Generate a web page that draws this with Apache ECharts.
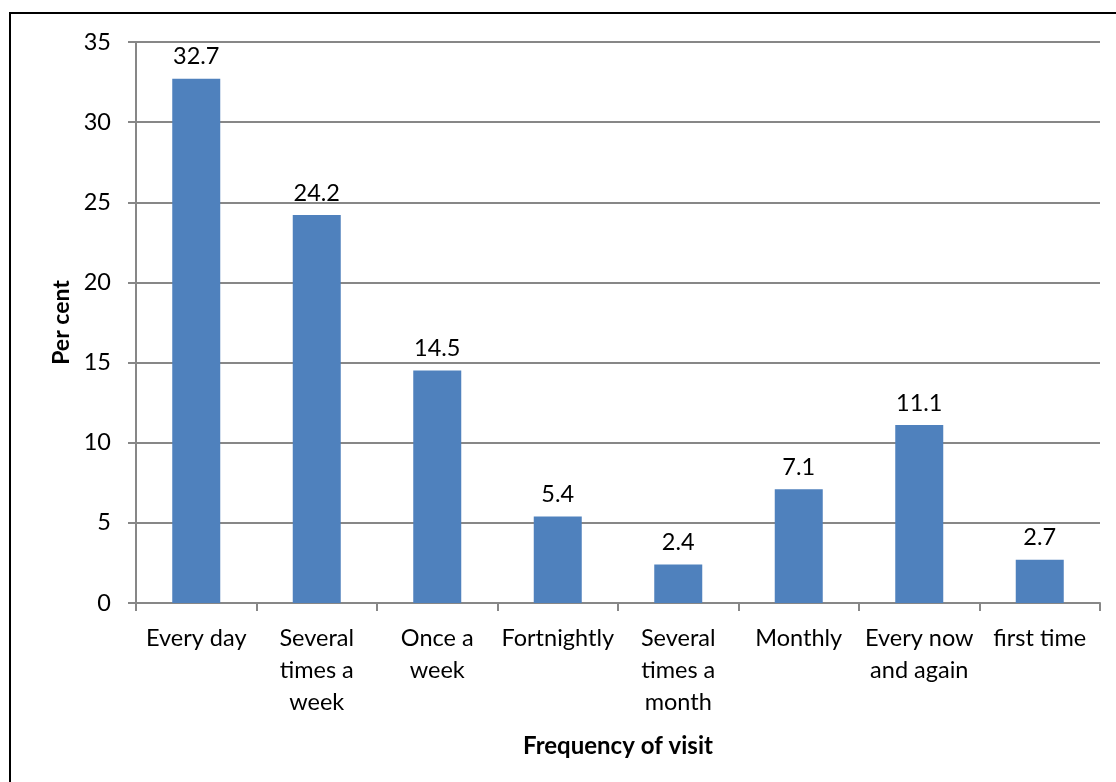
<!DOCTYPE html>
<html>
<head>
<meta charset="utf-8">
<script src="https://cdn.jsdelivr.net/npm/echarts@6/dist/echarts.min.js"></script>
<style>
html,body{margin:0;padding:0;background:#fff;overflow:hidden;}
#frame{position:absolute;left:9px;top:12px;width:1200px;height:900px;border:2px solid #000;box-sizing:border-box;}
#chart{position:absolute;left:0;top:0;width:1116px;height:782px;}
</style>
</head>
<body>
<div id="frame"></div>
<div id="chart"></div>
<script>
const categories = ['Every day', 'Several\ntimes a\nweek', 'Once a\nweek', 'Fortnightly', 'Several\ntimes a\nmonth', 'Monthly', 'Every now\nand again', 'first time'];
const values = [32.7, 24.2, 14.5, 5.4, 2.4, 7.1, 11.1, 2.7];
const yTicks = { min: 0, max: 35, interval: 5 };
const xTitle = 'Frequency of visit';
const yTitle = 'Per cent';

const FONT = 'Lato';
const chart = echarts.init(document.getElementById('chart'), null, { renderer: 'canvas' });
chart.setOption({
  backgroundColor: 'transparent',
  animation: false,
  textStyle: { fontFamily: FONT },
  grid: { left: 136, right: 16, top: 42, bottom: 179, containLabel: false },
  xAxis: {
    type: 'category',
    data: categories,
    name: xTitle,
    nameLocation: 'middle',
    nameGap: 131,
    nameTextStyle: { fontFamily: FONT, fontSize: 24, fontWeight: 'bold', color: '#000' },
    axisLine: { lineStyle: { color: '#878787', width: 2 } },
    axisTick: { show: true, length: 8, lineStyle: { color: '#878787', width: 2 } },
    axisLabel: { fontFamily: FONT, fontSize: 23.5, color: '#000', margin: 19, lineHeight: 32, interval: 0, verticalAlign: 'top' },
    splitLine: { show: false }
  },
  yAxis: {
    type: 'value',
    min: yTicks.min, max: yTicks.max, interval: yTicks.interval,
    name: yTitle,
    nameLocation: 'middle',
    nameGap: 63,
    nameRotate: 90,
    nameTextStyle: { fontFamily: FONT, fontSize: 23, fontWeight: 'bold', color: '#000' },
    axisLine: { show: true, lineStyle: { color: '#878787', width: 2 } },
    axisTick: { show: true, length: 8, lineStyle: { color: '#878787', width: 2 } },
    axisLabel: { fontFamily: FONT, fontSize: 23.5, color: '#000', margin: 25 },
    splitLine: { show: true, lineStyle: { color: '#878787', width: 2 } }
  },
  series: [{
    type: 'bar',
    data: values,
    barWidth: 48,
    itemStyle: { color: '#4f81bd' },
    label: { show: true, position: 'top', distance: 10, fontFamily: FONT, fontSize: 23.5, color: '#000',
      formatter: p => p.value.toFixed(1) }
  }]
});
</script>
</body>
</html>
